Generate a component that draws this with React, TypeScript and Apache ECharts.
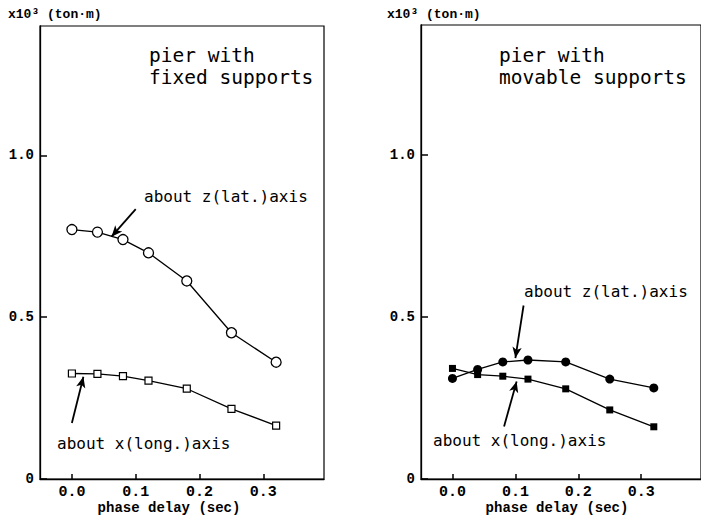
import React, { useEffect, useRef } from "react";
import * as echarts from "echarts";

const phaseDelay = [0.0, 0.04, 0.08, 0.12, 0.18, 0.25, 0.32];
const fixedZ = [0.771, 0.763, 0.74, 0.699, 0.612, 0.452, 0.361];
const fixedX = [0.326, 0.325, 0.318, 0.304, 0.279, 0.217, 0.165];
const movableZ = [0.31, 0.338, 0.361, 0.367, 0.361, 0.308, 0.281];
const movableX = [0.341, 0.322, 0.317, 0.308, 0.278, 0.213, 0.161];

const xTickLabels = ["0.0", "0.1", "0.2", "0.3"];
const yTickLabels = ["0", "0.5", "1.0"];
const X_MIN = -0.05;
const X_MAX = 0.395;
const Y_MIN = 0;
const Y_MAX = 1.4;

// arrow annotations in data coordinates: [fromX, fromY, toX, toY]
const arrowsLeft = [
  [0.1, 0.834, 0.062, 0.749],
  [0.0, 0.173, 0.018, 0.316],
];
const arrowsRight = [
  [0.113, 0.535, 0.1, 0.373],
  [0.082, 0.162, 0.102, 0.301],
];

const MONO = "'Liberation Mono', 'Courier New', monospace";
const SANSMONO = "'DejaVu Sans Mono', monospace";

function pairs(xs: number[], ys: number[]) {
  return xs.map((x, i) => [x, ys[i]]);
}

function arrowLines(list: number[][]) {
  return list.map((a) => [
    { coord: [a[0], a[1]], symbol: "none" },
    { coord: [a[2], a[3]], symbol: "arrow", symbolSize: [7, 11] },
  ]);
}

export default function App() {
  const ref = useRef<HTMLDivElement>(null);
  useEffect(() => {
    if (!ref.current) return;
    const chart = echarts.init(ref.current, null, { renderer: "svg" });
    const xAxisBase = (gridIndex: number) => ({
      type: "value",
      gridIndex,
      min: X_MIN,
      max: X_MAX,
      splitNumber: 5,
      axisLine: { show: true, onZero: false, lineStyle: { color: "#000", width: 1.3 } },
      axisTick: { show: true, inside: true, length: 5, lineStyle: { color: "#000", width: 1.5 } },
      axisLabel: {
        showMinLabel: false,
        showMaxLabel: false,
        formatter: (v: number) => {
          const s = v.toFixed(1);
          return xTickLabels.includes(s) && Math.abs(v - Number(s)) < 1e-6 ? s : "";
        },
        color: "#000",
        fontFamily: MONO,
        fontWeight: "bold",
        fontSize: 15,
        margin: 6,
      },
      splitLine: { show: false },
    });
    const yAxisBase = (gridIndex: number) => ({
      type: "value",
      gridIndex,
      min: Y_MIN,
      max: Y_MAX,
      interval: 0.5,
      axisLine: { show: true, onZero: false, lineStyle: { color: "#000", width: 1.3 } },
      axisTick: { show: true, inside: true, length: 7, lineStyle: { color: "#000", width: 1.5 } },
      axisLabel: {
        showMaxLabel: false,
        formatter: (v: number) => {
          const s = v === 0 ? "0" : v.toFixed(1);
          return yTickLabels.includes(s) && Math.abs(v - Number(s)) < 1e-6 ? s : "";
        },
        color: "#000",
        fontFamily: MONO,
        fontWeight: "bold",
        fontSize: 14,
        margin: 6,
      },
      splitLine: { show: false },
    });
    const lineStyle = { color: "#000", width: 1.3 };
    const markLineBase = (list: number[][]) => ({
      silent: true,
      animation: false,
      label: { show: false },
      lineStyle: { color: "#000", width: 1.8, type: "solid" },
      emphasis: { disabled: true },
      data: arrowLines(list),
    });
    const textStyle = (size: number, family: string, bold = false) => ({
      fill: "#000",
      fontFamily: family,
      fontSize: size,
      fontWeight: bold ? "bold" : "normal",
    });
    chart.setOption({
      animation: false,
      backgroundColor: "#fff",
      grid: [
        { left: 40, top: 26, width: 284, height: 453, show: true, borderColor: "#000", borderWidth: 1.2 },
        { left: 421, top: 25, width: 284, height: 454, show: true, borderColor: "#000", borderWidth: 1.2 },
      ],
      xAxis: [xAxisBase(0), xAxisBase(1)],
      yAxis: [yAxisBase(0), yAxisBase(1)],
      series: [
        {
          type: "line",
          xAxisIndex: 0,
          yAxisIndex: 0,
          data: pairs(phaseDelay, fixedZ),
          symbol: "circle",
          symbolSize: 10,
          showAllSymbol: true,
          lineStyle,
          itemStyle: { color: "#fff", borderColor: "#000", borderWidth: 1.3 },
          z: 3,
          markLine: markLineBase(arrowsLeft),
        },
        {
          type: "line",
          xAxisIndex: 0,
          yAxisIndex: 0,
          data: pairs(phaseDelay, fixedX),
          symbol: "rect",
          symbolSize: 7,
          lineStyle,
          itemStyle: { color: "#fff", borderColor: "#000", borderWidth: 1.2 },
          z: 3,
        },
        {
          type: "line",
          xAxisIndex: 1,
          yAxisIndex: 1,
          data: pairs(phaseDelay, movableZ),
          symbol: "circle",
          symbolSize: 9,
          lineStyle,
          itemStyle: { color: "#000", borderColor: "#000", borderWidth: 0 },
          z: 3,
          markLine: markLineBase(arrowsRight),
        },
        {
          type: "line",
          xAxisIndex: 1,
          yAxisIndex: 1,
          data: pairs(phaseDelay, movableX),
          symbol: "rect",
          symbolSize: 7,
          lineStyle,
          itemStyle: { color: "#000", borderColor: "#000", borderWidth: 0 },
          z: 3,
        },
      ],
      graphic: [
        { type: "text", left: 8, top: 8, style: { text: "x10³ (ton·m)", ...textStyle(13, MONO, true) } },
        { type: "text", left: 387, top: 8, style: { text: "x10³ (ton·m)", ...textStyle(13, MONO, true) } },
        { type: "text", left: 149, top: 44, style: { text: "pier with\nfixed supports", lineHeight: 22, ...textStyle(19.5, SANSMONO) } },
        { type: "text", left: 499, top: 44, style: { text: "pier with\nmovable supports", lineHeight: 22, ...textStyle(19.5, SANSMONO) } },
        { type: "text", left: 144, top: 188, style: { text: "about z(lat.)axis", ...textStyle(16, SANSMONO) } },
        { type: "text", left: 57, top: 435, style: { text: "about x(long.)axis", ...textStyle(16, SANSMONO) } },
        { type: "text", left: 524, top: 283, style: { text: "about z(lat.)axis", ...textStyle(16, SANSMONO) } },
        { type: "text", left: 433, top: 432, style: { text: "about x(long.)axis", ...textStyle(16, SANSMONO) } },
        { type: "text", x: 169, y: 508, style: { text: "phase delay (sec)", align: "center", verticalAlign: "middle", ...textStyle(14, MONO, true) } },
        { type: "text", x: 557, y: 508, style: { text: "phase delay (sec)", align: "center", verticalAlign: "middle", ...textStyle(14, MONO, true) } },
      ],
    });
    return () => chart.dispose();
  }, []);
  return (
    <div
      ref={ref}
      style={{ position: "fixed", left: 0, top: 0, width: 701, height: 520 }}
    />
  );
}
